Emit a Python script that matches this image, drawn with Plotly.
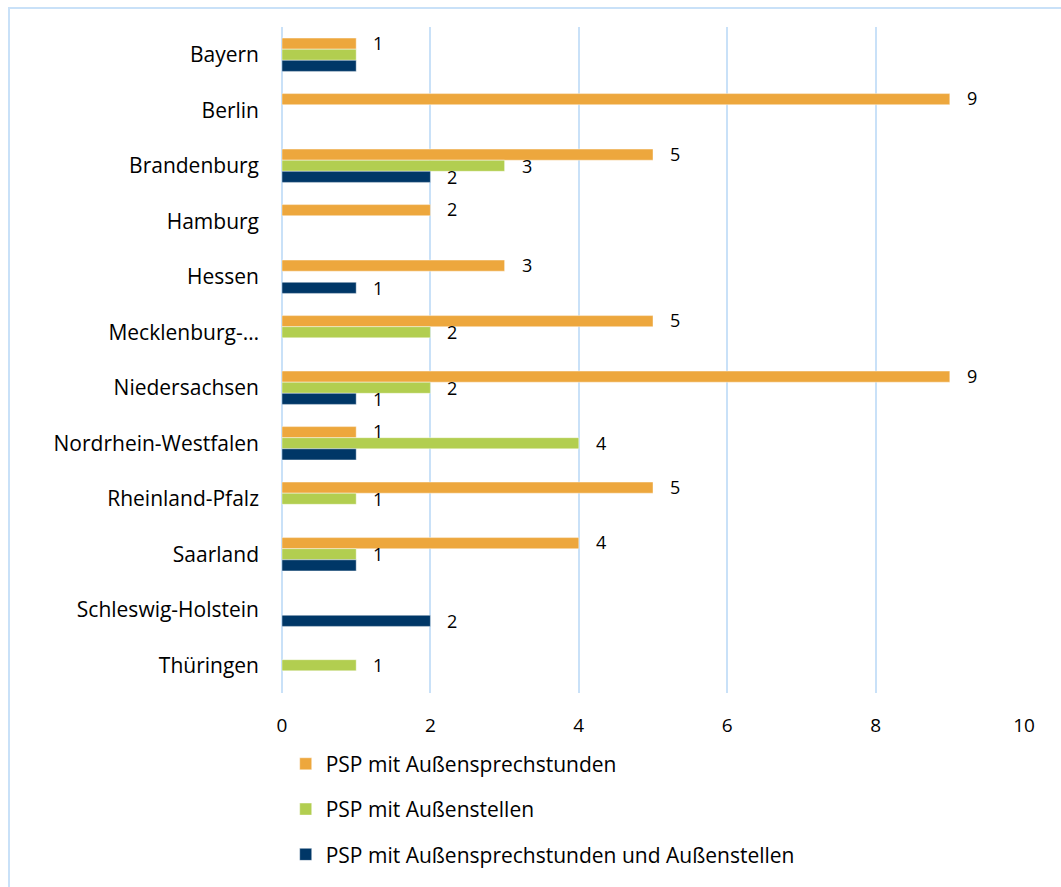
import plotly.graph_objects as go

categories = ["Bayern", "Berlin", "Brandenburg", "Hamburg", "Hessen", "Mecklenburg-…",
              "Niedersachsen", "Nordrhein-Westfalen", "Rheinland-Pfalz", "Saarland",
              "Schleswig-Holstein", "Thüringen"]
series_names = ["PSP mit Außensprechstunden", "PSP mit Außenstellen",
                "PSP mit Außensprechstunden und Außenstellen"]
sprechstunden = [1, 9, 5, 2, 3, 5, 9, 1, 5, 4, None, None]
aussenstellen = [1, None, 3, None, None, 2, 2, 4, 1, 1, None, 1]
beides = [1, None, 2, None, 1, None, 1, 1, None, 1, 2, None]
# data labels as shown in the original (overlapping ones hidden there)
labels_sprechstunden = ["1", "9", "5", "2", "3", "5", "9", "1", "5", "4", None, None]
labels_aussenstellen = [None, None, "3", None, None, "2", "2", "4", "1", "1", None, "1"]
labels_beides = [None, None, "2", None, "1", None, "1", None, None, None, "2", None]
x_ticks = [0, 2, 4, 6, 8, 10]

colors = ["#EDA73D", "#B2CE50", "#003767"]
FONT = "Open Sans"

W, H = 1061, 887
ML, MR, MT, MB = 282, 37, 27, 194
pw, ph = W - ML - MR, H - MT - MB

fig = go.Figure()
all_series = [sprechstunden, aussenstellen, beides]
all_labels = [labels_sprechstunden, labels_aussenstellen, labels_beides]
for i, (name, vals) in enumerate(zip(series_names, all_series)):
    fig.add_trace(go.Bar(
        y=categories, x=vals, name=name, orientation="h",
        marker=dict(color=colors[i], line=dict(color="rgba(255,255,255,0.7)", width=0.6)),
        legendgroup=f"g{i}", hoverinfo="x+y",
    ))

annotations = []
shifts = [12, 0, -11]
for i, (vals, labs) in enumerate(zip(all_series, all_labels)):
    for c, v, t in zip(categories, vals, labs):
        if v is None or t is None:
            continue
        annotations.append(dict(
            x=v, y=c, text=t, showarrow=False, xanchor="left", xshift=15,
            yshift=shifts[i], font=dict(family=FONT, size=18, color="#000000"),
        ))

grid_col = "#C9E1F8"
shapes = [dict(
    type="rect", xref="paper", yref="paper",
    x0=(9 - ML) / pw, x1=(W + 5 - ML) / pw,
    y0=(H - MB - (H + 30)) / ph, y1=(H - MB - 8) / ph,
    line=dict(color=grid_col, width=2), fillcolor="rgba(0,0,0,0)", layer="below",
)]

fig.update_layout(
    width=W, height=H,
    margin=dict(l=ML, r=MR, t=MT, b=MB, pad=0),
    paper_bgcolor="white", plot_bgcolor="white",
    barmode="group", bargap=0.4, bargroupgap=0,
    font=dict(family=FONT, size=21, color="#000000"),
    xaxis=dict(range=[0, 10], tickvals=x_ticks, showgrid=True, gridcolor=grid_col, gridwidth=2,
               zeroline=True, zerolinecolor=grid_col, zerolinewidth=2, showline=False,
               ticks="", ticklabelstandoff=19, tickfont=dict(size=19)),
    yaxis=dict(autorange="reversed", showgrid=False, showline=False, ticks="",
               ticklabelstandoff=22, tickfont=dict(size=21)),
    legend=dict(x=0.005, y=-0.076, xanchor="left", yanchor="top", orientation="v",
                font=dict(size=21), tracegroupgap=15, itemwidth=30, traceorder="grouped"),
    annotations=annotations, shapes=shapes, showlegend=True,
)

fig.write_html("out.html")
